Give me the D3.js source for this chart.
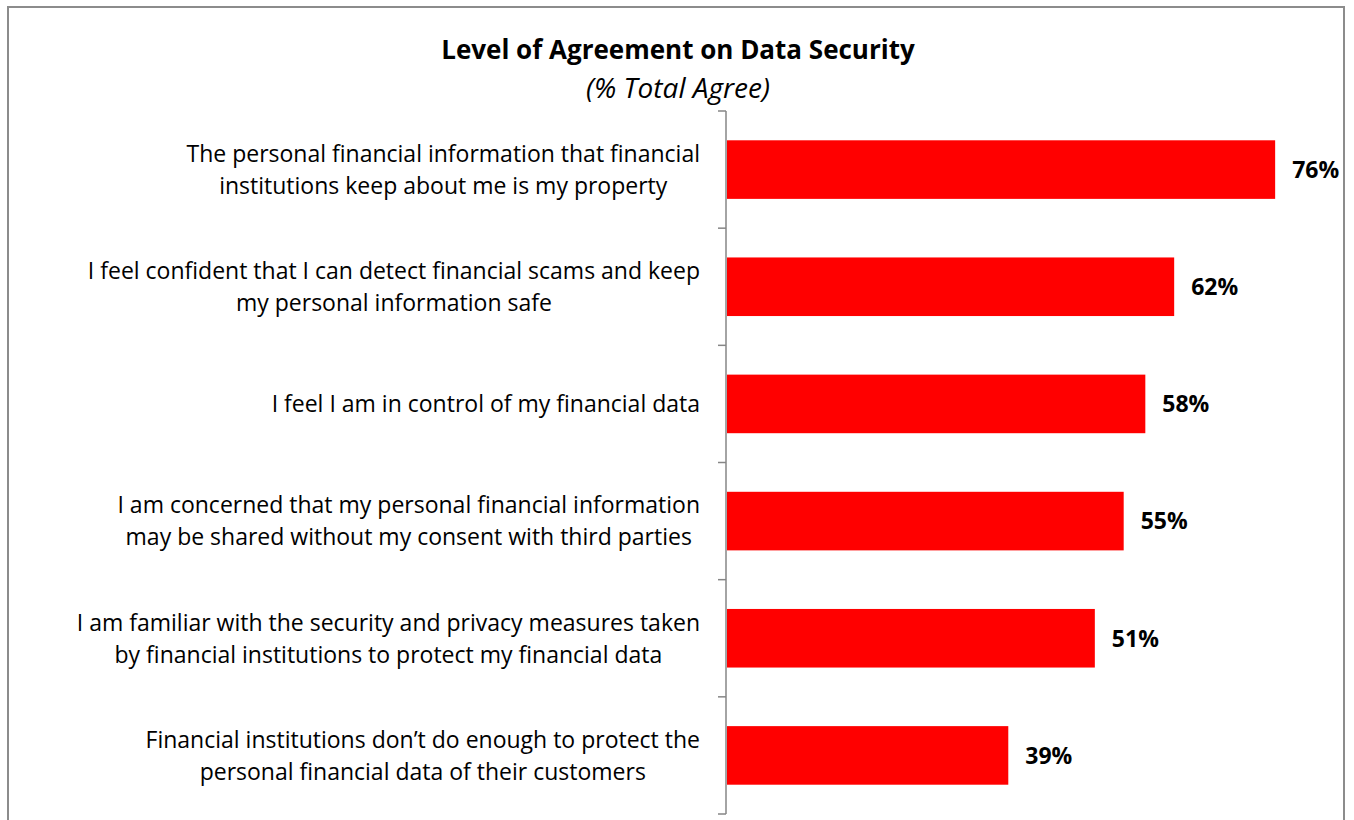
<!DOCTYPE html>
<html>
<head>
<meta charset="utf-8">
<script src="https://cdn.jsdelivr.net/npm/d3@7"></script>
<style>
  body { margin: 0; background: #fff; }
  text { font-family: "Open Sans", Lato, sans-serif; fill: #000; }
</style>
</head>
<body>
<div id="container"></div>
<script>

// chart data
var statements = [
	["The personal financial information that financial", "institutions keep about me is my property"],
	["I feel confident that I can detect financial scams and keep", "my personal information safe"],
	["I feel I am in control of my financial data"],
	["I am concerned that my personal financial information", "may be shared without my consent with third parties"],
	["I am familiar with the security and privacy measures taken", "by financial institutions to protect my financial data"],
	["Financial institutions don\u2019t do enough to protect the", "personal financial data of their customers"]
];
var agree = [76, 62, 58, 55, 51, 39];
var title = "Level of Agreement on Data Security";
var subtitle = "(% Total Agree)";


function drawit() {
	var width = 1354, height = 820;

	var svg = d3.select("#container")
	  .append("svg")
	  .attr("width", width)
	  .attr("height", height);

	// chart frame
	svg.append("rect")
	  .attr("x", 8)
	  .attr("y", 7)
	  .attr("width", 1336)
	  .attr("height", 830)
	  .attr("fill", "none")
	  .attr("stroke", "#8c8c8c")
	  .attr("stroke-width", 2);

	svg.append("text")
	  .attr("x", 678)
	  .attr("y", 59)
	  .attr("text-anchor", "middle")
	  .style("font-size", "26px")
	  .style("font-weight", "bold")
	  .text(title);

	svg.append("text")
	  .attr("x", 678)
	  .attr("y", 98)
	  .attr("text-anchor", "middle")
	  .style("font-size", "28px")
	  .style("font-style", "italic")
	  .text(subtitle);

	var idx = d3.range(agree.length);

	var x = d3.scaleLinear()
	  .domain([0, 80])
	  .range([727, 1304]);

	var y = d3.scaleBand()
	  .domain(idx)
	  .range([111, 814])
	  .paddingInner(0.5)
	  .paddingOuter(0.25);

	// bars
	svg.selectAll("rect.bar")
	  .data(idx)
	  .enter()
	  .append("rect")
	  .attr("class", "bar")
	  .attr("x", x(0))
	  .attr("y", function(i) { return y(i); })
	  .attr("width", function(i) { return x(agree[i]) - x(0); })
	  .attr("height", y.bandwidth())
	  .attr("fill", "#ff0000");

	// value labels
	svg.selectAll("text.val")
	  .data(idx)
	  .enter()
	  .append("text")
	  .attr("class", "val")
	  .attr("x", function(i) { return x(agree[i]) + 17; })
	  .attr("y", function(i) { return y(i) + y.bandwidth() / 2; })
	  .attr("dy", "0.36em")
	  .style("font-size", "23px")
	  .style("font-weight", "bold")
	  .text(function(i) { return agree[i] + "%"; });

	// axis line and ticks between categories
	var y0 = y.range()[0], y1 = y.range()[1];
	svg.append("line")
	  .attr("x1", 726).attr("x2", 726)
	  .attr("y1", y0).attr("y2", y1)
	  .attr("stroke", "#868686")
	  .attr("stroke-width", 1.5);
	svg.selectAll("line.tick")
	  .data(d3.range(agree.length + 1))
	  .enter()
	  .append("line")
	  .attr("class", "tick")
	  .attr("x1", 718).attr("x2", 726)
	  .attr("y1", function(k) { return y0 + k * y.step(); })
	  .attr("y2", function(k) { return y0 + k * y.step(); })
	  .attr("stroke", "#868686")
	  .attr("stroke-width", 1.5);

	// category labels: block right aligned, lines centred within block
	var lineH = 32;
	idx.forEach(function(i) {
		var lines = statements[i];
		var cy = y(i) + y.bandwidth() / 2;
		var g = svg.append("g");
		var texts = g.selectAll("text")
		  .data(lines)
		  .enter()
		  .append("text")
		  .attr("y", function(d, j) { return cy + (j - (lines.length - 1) / 2) * lineH; })
		  .attr("dy", "0.36em")
		  .attr("text-anchor", "middle")
		  .style("font-size", "23px")
		  .text(function(d) { return d; });
		var maxw = 0;
		texts.each(function() { maxw = Math.max(maxw, this.getComputedTextLength()); });
		texts.attr("x", 700 - maxw / 2);
	});
};

drawit();

</script>
</body>
</html>
